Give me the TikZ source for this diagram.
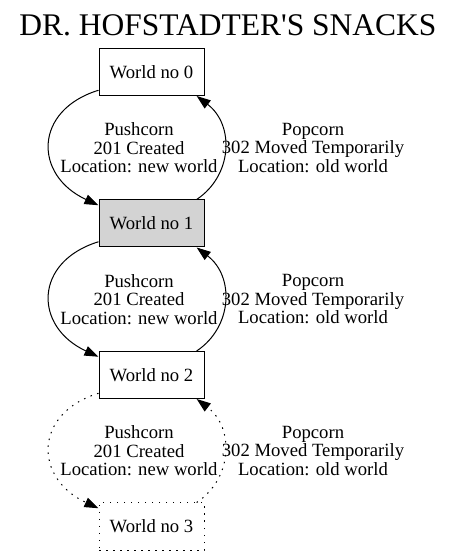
\documentclass[tikz,border=0pt]{standalone}
\usepackage{fontspec}
\setmainfont{Liberation Serif}
\usetikzlibrary{arrows.meta}
\begin{document}
\begin{tikzpicture}
      [%%%%%%%%%%%%%%%%%%%%%%%%%%%%%%
      x=1bp,y=1bp,
      world/.style={rectangle,draw=black,line width=1bp,minimum width=105bp,minimum height=47bp,font=\fontsize{18.67bp}{18.5bp}\selectfont},
      lbl/.style={align=center,inner sep=0pt,font=\fontsize{18.67bp}{18.5bp}\selectfont},
      jump/.style={line width=1bp,-{Triangle[length=14bp,width=10bp]}},
      dots/.style={dash pattern=on 1.5bp off 5.5bp},
      ]%%%%%%%%%%%%%%%%%%%%%%%%%%%%%%
      \useasboundingbox (0,0) rectangle (456,557);

      \node (title) at (228,531.5) {\fontsize{31.5bp}{36bp}\selectfont DR. HOFSTADTER\textquotesingle S SNACKS};

      \node[world] (w0) at (151.5,485){World no 0};
      \node[world,fill={rgb,255:red,211;green,211;blue,211}] (w1) at (151.5,333.5){World no 1};
      \node[world] (w2) at (151.5,182){World no 2};
      \node[world,dots] (w3) at (151.5,30.5){World no 3};

      \foreach \i/\j in {0/1,1/2}{
        \draw[jump] (w\i.199) .. controls +(-65,-20) and +(-65,30) .. (w\j.161);
        \draw[jump] (w\j.28) .. controls +(36,24) and +(38,-29) .. (w\i.332);
      }
      \draw[jump,dots] (w2.199) .. controls +(-65,-20) and +(-65,30) .. (w3.161);
      \draw[jump,dots] (w3.28) .. controls +(36,24) and +(38,-29) .. (w2.332);

      \foreach \k/\y in {0/409.25,1/257.75,2/106.25}{
        \node[lbl] (push\k) at (139,\y){Pushcorn\\201 Created\\Location: new world};
        \node[lbl] (pop\k) at (313,\y){Popcorn\\302 Moved Temporarily\\Location: old world};
      }
    \end{tikzpicture}
\end{document}
